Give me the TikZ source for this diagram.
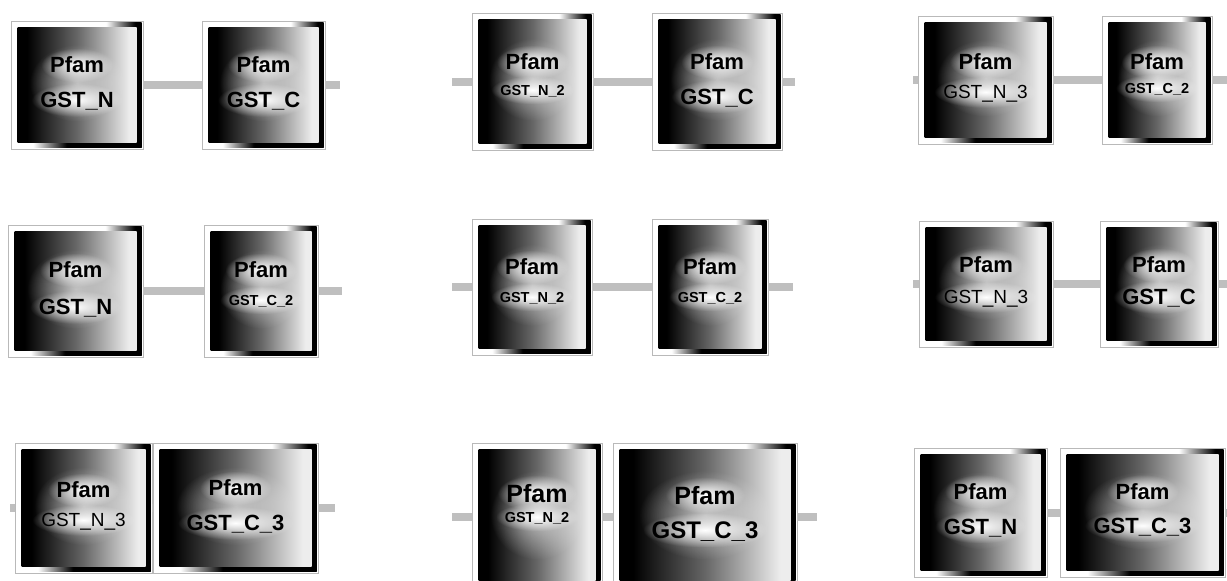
\documentclass[tikz,border=0pt]{standalone}
\usepackage{fontspec}
\setmainfont{Liberation Sans}
\usetikzlibrary{fadings}

\pgfdeclarehorizontalshading{rimtop}{100bp}{color(0bp)=(white); color(25bp)=(white); color(61bp)=(white); color(72bp)=(black); color(100bp)=(black)}
\pgfdeclarehorizontalshading{rimbot}{100bp}{color(0bp)=(white); color(25bp)=(white); color(33bp)=(white); color(46bp)=(black); color(100bp)=(black)}
\pgfdeclarehorizontalshading{facegrad}{100bp}{color(0bp)=(black); color(29bp)=(black); color(50bp)=(black!60); color(72bp)=(white!93!black); color(100bp)=(white!93!black)}
\tikzfading[name=glowfade, inner color=transparent!0, outer color=transparent!100]

\tikzset{
  dom/.style 2 args={draw=gray!55, line width=0.6pt, fill=white, inner sep=0pt, outer sep=0pt,
    minimum width=#1pt, minimum height=#2pt,
    path picture={
      \shade[shading=rimtop]
        ([shift={(1.5pt,1.5pt)}]path picture bounding box.south west) rectangle
        ([shift={(-1.5pt,-1.5pt)}]path picture bounding box.north east);
      \shade[shading=rimbot]
        ([shift={(1.5pt,1.5pt)}]path picture bounding box.south west) rectangle
        ([shift={(-1.5pt,6.5pt)}]path picture bounding box.south east);
      \shade[shading=facegrad]
        ([shift={(6.5pt,6.5pt)}]path picture bounding box.south west) rectangle
        ([shift={(-6.5pt,-6.5pt)}]path picture bounding box.north east);
      \fill[white, opacity=0.6, path fading=glowfade]
        ([yshift=2pt]path picture bounding box.center) ellipse [x radius=0.36*#1pt, y radius=0.3*#2pt];
    }},
  txt/.style={text=black, inner sep=9pt, text depth=0pt, fill=white, path fading=glowfade},
  fam/.style={txt, font=\bfseries\fontsize{22}{24}\selectfont},
  big/.style={txt, font=\bfseries\fontsize{22}{24}\selectfont},
  mid/.style={txt, font=\fontsize{19}{22}\selectfont},
  sml/.style={txt, font=\bfseries\fontsize{14.5}{16}\selectfont},
  lnk/.style={draw=gray!50, line width=8pt}
}

\begin{document}
\begin{tikzpicture}[x=1pt, y=-1pt]
\useasboundingbox (0,0) rectangle (1227,581);

% row 1
\node[dom={132}{128}] (a1) at (77,85) {};
\node[dom={123}{128}] (a2) at (263.5,85) {};
\node[dom={121}{137}] (b1) at (532.5,81.5) {};
\node[dom={130}{137}] (b2) at (717,81.5) {};
\node[dom={135}{128}] (c1) at (985.5,80) {};
\node[dom={110}{128}] (c2) at (1157,80) {};

% row 2
\node[dom={135}{132}] (d1) at (75.5,291) {};
\node[dom={114}{132}] (d2) at (261,291) {};
\node[dom={120}{136}] (e1) at (532,287) {};
\node[dom={116}{136}] (e2) at (710,287) {};
\node[dom={134}{126}] (f1) at (986,284) {};
\node[dom={118}{126}] (f2) at (1159,284) {};

% row 3
\node[dom={137}{130}] (g1) at (83.5,508) {};
\node[dom={165}{130}] (g2) at (235.5,508) {};
\node[dom={130}{148}] (h1) at (537,517) {};
\node[dom={184}{148}] (h2) at (705,517) {};
\node[dom={133}{129}] (i1) at (980.5,512.5) {};
\node[dom={165}{129}] (i2) at (1142.5,512.5) {};

% free ends of the links
\coordinate (aout) at (340,85);
\coordinate (bin) at (452,81.5);
\coordinate (bout) at (795,81.5);
\coordinate (cin) at (913,80);
\coordinate (cout) at (1227,80);
\coordinate (dout) at (342,291);
\coordinate (ein) at (452,287);
\coordinate (eout) at (793,287);
\coordinate (fin) at (913,284);
\coordinate (fout) at (1227,284);
\coordinate (gin) at (10,508);
\coordinate (gout) at (335,508);
\coordinate (hin) at (452,517);
\coordinate (hout) at (817,517);
\coordinate (iout) at (1227,512.5);

\draw[lnk] (a1.east) -- (a2.west) (a2.east) -- (aout);
\draw[lnk] (bin) -- (b1.west) (b1.east) -- (b2.west) (b2.east) -- (bout);
\draw[lnk] (cin) -- (c1.west) (c1.east) -- (c2.west) (c2.east) -- (cout);
\draw[lnk] (d1.east) -- (d2.west) (d2.east) -- (dout);
\draw[lnk] (ein) -- (e1.west) (e1.east) -- (e2.west) (e2.east) -- (eout);
\draw[lnk] (fin) -- (f1.west) (f1.east) -- (f2.west) (f2.east) -- (fout);
\draw[lnk] (gin) -- (g1.west) (g1.east) -- (g2.west) (g2.east) -- (gout);
\draw[lnk] (hin) -- (h1.west) (h1.east) -- (h2.west) (h2.east) -- (hout);
\draw[lnk] (i1.east) -- (i2.west) (i2.east) -- (iout);

% labels
\node[fam] (a1p) at ([yshift=20pt]a1.center) {Pfam};
\node[big] (a1l) at ([yshift=-15pt]a1.center) {GST\_N};
\node[fam] (a2p) at ([yshift=20pt]a2.center) {Pfam};
\node[big] (a2l) at ([yshift=-15pt]a2.center) {GST\_C};
\node[fam] (b1p) at ([yshift=19.5pt]b1.center) {Pfam};
\node[sml] (b1l) at ([yshift=-8.5pt]b1.center) {GST\_N\_2};
\node[fam] (b2p) at ([yshift=19.5pt]b2.center) {Pfam};
\node[big] (b2l) at ([yshift=-15pt]b2.center) {GST\_C};
\node[fam] (c1p) at ([yshift=18pt]c1.center) {Pfam};
\node[mid] (c1l) at ([yshift=-12pt]c1.center) {GST\_N\_3};
\node[fam] (c2p) at ([yshift=18pt]c2.center) {Pfam};
\node[sml] (c2l) at ([yshift=-8pt]c2.center) {GST\_C\_2};

\node[fam] (d1p) at ([yshift=21pt]d1.center) {Pfam};
\node[big] (d1l) at ([yshift=-16pt]d1.center) {GST\_N};
\node[fam] (d2p) at ([yshift=21pt]d2.center) {Pfam};
\node[sml] (d2l) at ([yshift=-9pt]d2.center) {GST\_C\_2};
\node[fam] (e1p) at ([yshift=20pt]e1.center) {Pfam};
\node[sml] (e1l) at ([yshift=-10pt]e1.center) {GST\_N\_2};
\node[fam] (e2p) at ([yshift=20pt]e2.center) {Pfam};
\node[sml] (e2l) at ([yshift=-10pt]e2.center) {GST\_C\_2};
\node[fam] (f1p) at ([yshift=19pt]f1.center) {Pfam};
\node[mid] (f1l) at ([yshift=-13pt]f1.center) {GST\_N\_3};
\node[fam] (f2p) at ([yshift=19pt]f2.center) {Pfam};
\node[big] (f2l) at ([yshift=-13pt]f2.center) {GST\_C};

\node[fam] (g1p) at ([yshift=18pt]g1.center) {Pfam};
\node[mid] (g1l) at ([yshift=-12pt]g1.center) {GST\_N\_3};
\node[fam] (g2p) at ([yshift=20pt]g2.center) {Pfam};
\node[big] (g2l) at ([yshift=-15pt]g2.center) {GST\_C\_3};
\node[fam, font=\bfseries\fontsize{25}{28}\selectfont] (h1p) at ([yshift=24pt]h1.center) {Pfam};
\node[sml] (h1l) at ([yshift=0pt]h1.center) {GST\_N\_2};
\node[fam, font=\bfseries\fontsize{25}{28}\selectfont] (h2p) at ([yshift=22pt]h2.center) {Pfam};
\node[big, font=\bfseries\fontsize{24}{26}\selectfont] (h2l) at ([yshift=-13pt]h2.center) {GST\_C\_3};
\node[fam] (i1p) at ([yshift=21pt]i1.center) {Pfam};
\node[big] (i1l) at ([yshift=-14pt]i1.center) {GST\_N};
\node[fam] (i2p) at ([yshift=21pt]i2.center) {Pfam};
\node[big] (i2l) at ([yshift=-13pt]i2.center) {GST\_C\_3};
\end{tikzpicture}
\end{document}
